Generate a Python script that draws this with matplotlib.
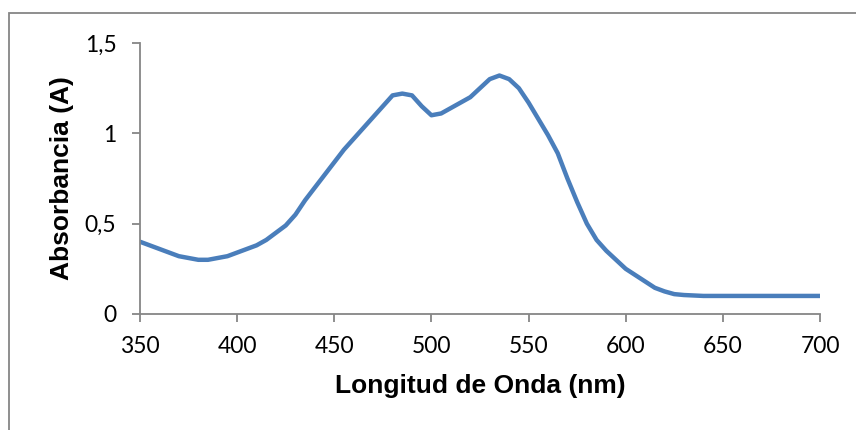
import matplotlib
matplotlib.use('agg')
import matplotlib.pyplot as plt
from matplotlib.patches import Rectangle

# absorption spectrum, one reading every 5 nm
longitud = [350, 355, 360, 365, 370, 375, 380, 385, 390, 395,
            400, 405, 410, 415, 420, 425, 430, 435, 440, 445,
            450, 455, 460, 465, 470, 475, 480, 485, 490, 495,
            500, 505, 510, 515, 520, 525, 530, 535, 540, 545,
            550, 555, 560, 565, 570, 575, 580, 585, 590, 595,
            600, 605, 610, 615, 620, 625, 630, 640, 650, 660,
            670, 680, 690, 700]
absorbancia = [0.40, 0.38, 0.36, 0.34, 0.32, 0.31, 0.30, 0.30, 0.31, 0.32,
               0.34, 0.36, 0.38, 0.41, 0.45, 0.49, 0.55, 0.63, 0.70, 0.77,
               0.84, 0.91, 0.97, 1.03, 1.09, 1.15, 1.21, 1.22, 1.21, 1.15,
               1.10, 1.11, 1.14, 1.17, 1.20, 1.25, 1.30, 1.32, 1.30, 1.25,
               1.17, 1.08, 0.99, 0.89, 0.75, 0.62, 0.50, 0.41, 0.35, 0.30,
               0.25, 0.215, 0.18, 0.145, 0.125, 0.11, 0.105, 0.10, 0.10, 0.10,
               0.10, 0.10, 0.10, 0.10]

x_ticks = [350, 400, 450, 500, 550, 600, 650, 700]
y_ticks = [0, 0.5, 1, 1.5]
y_tick_labels = ['0', '0,5', '1', '1,5']

gris = '#868686'
tick_font = 'Lato'
label_font = 'Liberation Sans'

fig = plt.figure(figsize=(8.56, 4.30), dpi=100)
ax = fig.add_axes([140 / 856, 1 - 314 / 430, 680 / 856, 271 / 430])

ax.plot(longitud, absorbancia, color='#4A7EBB', lw=3.2,
        solid_capstyle='round', solid_joinstyle='round')

ax.set_xlim(350, 700)
ax.set_ylim(0, 1.5)
ax.set_xticks(x_ticks)
ax.set_yticks(y_ticks)
ax.set_yticklabels(y_tick_labels)

for s in ['top', 'right']:
    ax.spines[s].set_visible(False)
for s in ['left', 'bottom']:
    ax.spines[s].set_color(gris)
    ax.spines[s].set_linewidth(1.3)

ax.tick_params(axis='both', direction='out', length=6, width=1.3,
               color=gris, labelsize=16.5, labelcolor='black')
ax.tick_params(axis='x', pad=10)
ax.tick_params(axis='y', pad=11)
for lbl in ax.get_xticklabels() + ax.get_yticklabels():
    lbl.set_fontfamily(tick_font)

ax.set_xlabel('Longitud de Onda (nm)', fontsize=19, fontweight='bold',
              family=label_font, labelpad=12)
ax.set_ylabel('Absorbancia (A)', fontsize=19, fontweight='bold',
              family=label_font, labelpad=8)

# chart frame, cut by the right and bottom image edges
fig.patches.append(Rectangle((9 / 856, -0.1), 1.2, 1 - 13 / 430 + 0.1,
                             transform=fig.transFigure, fill=False,
                             edgecolor=gris, lw=1.3))

plt.savefig('out.png', dpi=100)
plt.close()
